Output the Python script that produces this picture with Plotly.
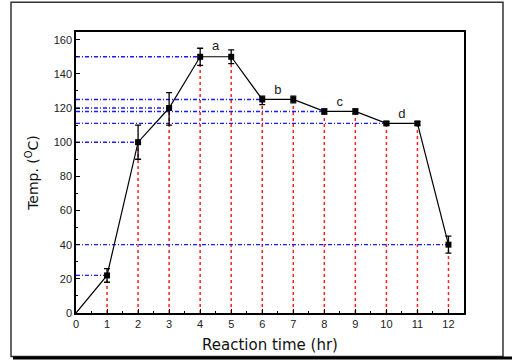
import plotly.graph_objects as go

# Reaction temperature profile
hours = [1, 2, 3, 4, 5, 6, 7, 8, 9, 10, 11, 12]
temps = [22, 100, 120, 150, 150, 125, 125, 118, 118, 111, 111, 40]
err_up = [4, 10, 9, 5, 4, 2, 2, 1.5, 1.5, 1, 1, 5]
err_down = [4, 10, 10, 5, 4, 3, 2, 1.5, 1.5, 1, 1, 5]

# horizontal guides: level and the hour where the guide stops
guide_levels = [22, 100, 120, 150, 125, 118, 111, 40]
guide_ends = [1, 2, 3, 4, 6, 8, 10, 12]

# plateau labels
stage_names = ["a", "b", "c", "d"]
stage_x = [4.5, 6.5, 8.5, 10.5]
stage_y = [156, 130, 123, 116]

x_ticks = list(range(0, 13))
y_ticks = list(range(0, 161, 20))

fig = go.Figure()

# red vertical drop lines
for h, t in zip(hours, temps):
    fig.add_trace(go.Scatter(x=[h, h], y=[0, t], mode="lines",
                             line=dict(color="#ff2020", width=1.5, dash="dot"),
                             hoverinfo="skip", showlegend=False))

# blue horizontal guides
for lv, end in zip(guide_levels, guide_ends):
    fig.add_trace(go.Scatter(x=[0, end], y=[lv, lv], mode="lines",
                             line=dict(color="#1a1aff", width=1.4, dash="4px,2px,1px,2px"),
                             hoverinfo="skip", showlegend=False))

# main curve starting from the origin
fig.add_trace(go.Scatter(x=[0] + hours, y=[0] + temps, mode="lines",
                         line=dict(color="black", width=1.2),
                         hoverinfo="skip", showlegend=False))

# measured points with error bars
fig.add_trace(go.Scatter(x=hours, y=temps, mode="markers",
                         marker=dict(symbol="square", size=6, color="black"),
                         error_y=dict(type="data", array=err_up, arrayminus=err_down,
                                      color="black", thickness=1.3, width=3),
                         showlegend=False))

fig.add_trace(go.Scatter(x=stage_x, y=stage_y, mode="text", text=stage_names,
                         textfont=dict(family="Liberation Sans", size=13, color="#222"),
                         hoverinfo="skip", showlegend=False))

# outer frame around the whole figure
L, R, T, B = 76, 464, 32, 316
def px(v):
    return (v - L) / (R - L)
def py(v):
    return (B - v) / (B - T)

fig.add_shape(type="rect", xref="paper", yref="paper",
              x0=px(11), x1=px(503), y0=py(360), y1=py(2),
              line=dict(color="#333", width=1.5), layer="below")
fig.add_shape(type="rect", xref="paper", yref="paper",
              x0=px(13), x1=px(512), y0=py(363), y1=py(360),
              line=dict(width=0), fillcolor="black")

fig.update_layout(
    width=512, height=363,
    margin=dict(l=L, r=512 - R, t=T, b=363 - B),
    paper_bgcolor="white", plot_bgcolor="white",
    font=dict(family="Liberation Sans", color="#222"),
    xaxis=dict(range=[0, 12.5], tickvals=x_ticks, ticks="inside", ticklen=4,
               tickwidth=1.3, tickcolor="black",
               minor=dict(ticks="inside", ticklen=2, dtick=0.5, tickcolor="black"),
               showline=True, linecolor="black", linewidth=1.5, mirror=True,
               showgrid=False, zeroline=False,
               tickfont=dict(family="Liberation Sans", size=11, color="#222"),
               title=dict(text="Reaction time (hr)", standoff=11,
                          font=dict(family="DejaVu Sans", size=15, color="#111"))),
    yaxis=dict(range=[0, 164.5], tickvals=y_ticks, ticks="inside", ticklen=4,
               tickwidth=1.3, tickcolor="black",
               minor=dict(ticks="inside", ticklen=2, dtick=10, tickcolor="black"),
               showline=True, linecolor="black", linewidth=1.5, mirror=True,
               showgrid=False, zeroline=False,
               tickfont=dict(family="Liberation Sans", size=11, color="#222"),
               title=dict(text="Temp. (<sup>O</sup>C)", standoff=12,
                          font=dict(family="DejaVu Sans", size=14, color="#111"))),
)

fig.write_html("out.html")
